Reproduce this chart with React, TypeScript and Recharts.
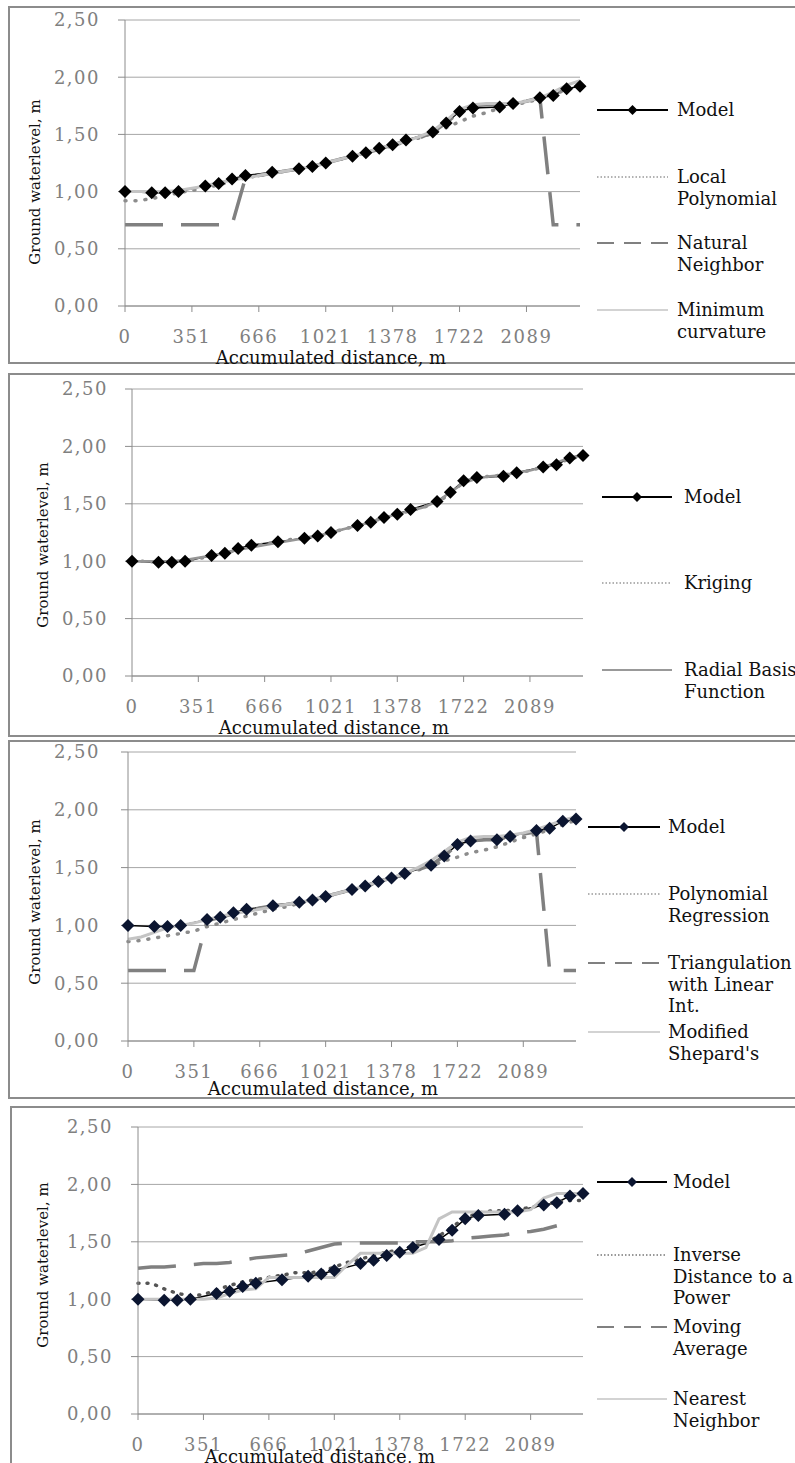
import { LineChart, Line, XAxis, YAxis, CartesianGrid } from "recharts";

// accumulated distance along the profile, m (category axis)
const distances = [
  0, 68, 142, 209, 283, 351, 410, 478, 541, 600, 666, 735, 810, 877, 951, 1021, 1090, 1166,
  1233, 1309, 1378, 1445, 1519, 1582, 1655, 1722, 1797, 1866, 1944, 2013, 2089, 2158, 2234,
  2300, 2371,
];

const yTicks = [0, 0.5, 1, 1.5, 2, 2.5];

// ground water level, m
const modelLevel = [
  1.0, null, 0.99, 0.99, 1.0, null, 1.05, 1.07, 1.11, 1.14, null, 1.17, null, 1.2, 1.22, 1.25,
  null, 1.31, 1.34, 1.38, 1.41, 1.45, null, 1.52, 1.6, 1.7, 1.73, null, 1.74, 1.77, null, 1.82,
  1.84, 1.9, 1.92,
];

const localPolynomial = [
  0.92, 0.92, 0.94, 0.96, 0.99, 1.01, 1.03, 1.06, 1.09, 1.12, 1.14, 1.16, 1.18, 1.2, 1.22, 1.25,
  1.28, 1.31, 1.34, 1.37, 1.4, 1.44, 1.47, 1.51, 1.56, 1.61, 1.66, 1.69, 1.73, 1.76, 1.78, 1.81,
  1.85, 1.89, 1.93,
];
const naturalNeighbor = [
  0.71, 0.71, 0.71, 0.71, 0.71, 0.71, 0.71, 0.71, 0.71, 1.12, 1.14, 1.16, 1.18, 1.2, 1.22, 1.25,
  1.28, 1.31, 1.34, 1.37, 1.41, 1.44, 1.47, 1.52, 1.6, 1.7, 1.75, 1.76, 1.76, 1.77, 1.79, 1.82,
  0.71, 0.71, 0.71,
];
const minimumCurvature = [
  1.0, 1.0, 1.0, 1.0, 1.01, 1.03, 1.05, 1.08, 1.1, 1.12, 1.14, 1.16, 1.18, 1.2, 1.22, 1.25, 1.28,
  1.31, 1.34, 1.38, 1.41, 1.44, 1.48, 1.53, 1.62, 1.72, 1.76, 1.77, 1.77, 1.77, 1.79, 1.82, 1.87,
  1.93, 1.97,
];

const kriging = [
  1.0, 1.0, 0.99, 0.99, 1.0, 1.02, 1.05, 1.07, 1.1, 1.13, 1.15, 1.17, 1.19, 1.2, 1.22, 1.25, 1.28,
  1.31, 1.34, 1.38, 1.41, 1.44, 1.47, 1.51, 1.59, 1.69, 1.73, 1.74, 1.75, 1.77, 1.79, 1.82, 1.85,
  1.89, 1.92,
];
const radialBasis = [
  1.0, 1.0, 1.0, 1.0, 1.01, 1.03, 1.05, 1.07, 1.1, 1.12, 1.14, 1.16, 1.18, 1.2, 1.22, 1.25, 1.28,
  1.31, 1.34, 1.38, 1.41, 1.44, 1.47, 1.52, 1.6, 1.68, 1.72, 1.74, 1.75, 1.77, 1.79, 1.82, 1.86,
  1.9, 1.93,
];

const polynomialRegression = [
  0.86, 0.87, 0.89, 0.91, 0.93, 0.95, 0.99, 1.02, 1.05, 1.08, 1.11, 1.14, 1.16, 1.19, 1.22, 1.25,
  1.28, 1.31, 1.34, 1.37, 1.41, 1.44, 1.48, 1.51, 1.56, 1.59, 1.63, 1.65, 1.68, 1.72, 1.76, 1.79,
  1.83, 1.87, 1.91,
];
const triangulation = [
  0.61, 0.61, 0.61, 0.61, 0.61, 0.61, 1.04, 1.07, 1.1, 1.13, 1.15, 1.17, 1.18, 1.2, 1.22, 1.25,
  1.28, 1.31, 1.34, 1.38, 1.41, 1.44, 1.48, 1.52, 1.6, 1.7, 1.73, 1.74, 1.74, 1.77, 1.79, 1.81,
  0.61, 0.61, 0.61,
];
const modifiedShepard = [
  0.88, 0.9, 0.94, 0.98, 1.0, 1.02, 1.05, 1.08, 1.1, 1.12, 1.14, 1.16, 1.18, 1.2, 1.22, 1.25,
  1.28, 1.31, 1.34, 1.38, 1.41, 1.45, 1.5, 1.56, 1.64, 1.72, 1.76, 1.77, 1.77, 1.78, 1.8, 1.83,
  1.87, 1.91, 1.94,
];

const inverseDistance = [
  1.14, 1.14, 1.09, 1.05, 1.03, 1.04, 1.08, 1.12, 1.15, 1.17, 1.19, 1.21, 1.23, 1.23, 1.24, 1.28,
  1.32, 1.35, 1.38, 1.41, 1.43, 1.46, 1.49, 1.55, 1.63, 1.71, 1.75, 1.77, 1.77, 1.78, 1.8, 1.82,
  1.85, 1.86, 1.86,
];
const movingAverage = [
  1.27, 1.28, 1.28, 1.29, 1.3, 1.31, 1.31, 1.32, 1.34, 1.36, 1.37, 1.38, 1.39, 1.42, 1.45, 1.48,
  1.49, 1.49, 1.49, 1.49, 1.49, 1.5, 1.5, 1.5, 1.51, 1.53, 1.54, 1.55, 1.56, 1.58, 1.59, 1.61,
  1.64, null, null,
];
const nearestNeighbor = [
  1.0, 1.0, 1.0, 1.0, 1.0, 1.0, 1.01, 1.05, 1.08, 1.09, 1.19, 1.19, 1.19, 1.19, 1.19, 1.19, 1.3,
  1.4, 1.4, 1.4, 1.4, 1.4, 1.45, 1.7, 1.76, 1.76, 1.76, 1.76, 1.76, 1.76, 1.78, 1.88, 1.92, 1.92,
  1.92,
];

const rows = distances.map((d, i) => ({
  d,
  model: modelLevel[i],
  lp: localPolynomial[i],
  nn: naturalNeighbor[i],
  mc: minimumCurvature[i],
  kr: kriging[i],
  rb: radialBasis[i],
  pr: polynomialRegression[i],
  tr: triangulation[i],
  ms: modifiedShepard[i],
  idw: inverseDistance[i],
  ma: movingAverage[i],
  ne: nearestNeighbor[i],
}));

const SERIF = "'DejaVu Serif', serif";

const styles: Record<string, any> = {
  model: { stroke: "#000", strokeWidth: 1.5 },
  dotted: { stroke: "#8c8c8c", strokeWidth: 3.5, strokeDasharray: "1 9", strokeLinecap: "round" },
  darkDotted: { stroke: "#555", strokeWidth: 3.5, strokeDasharray: "1 8", strokeLinecap: "round" },
  dashed: { stroke: "#808080", strokeWidth: 3.5, strokeDasharray: "38 18" },
  light: { stroke: "#c4c4c4", strokeWidth: 3 },
  mid: { stroke: "#969696", strokeWidth: 2.5 },
};

const legendStyles: Record<string, any> = {
  model: { stroke: "#000", strokeWidth: 2 },
  dotted: { stroke: "#999", strokeWidth: 1.5, strokeDasharray: "1.5 2" },
  darkDotted: { stroke: "#777", strokeWidth: 1.5, strokeDasharray: "1.5 2" },
  dashed: { stroke: "#808080", strokeWidth: 2, strokeDasharray: "17 10" },
  light: { stroke: "#c4c4c4", strokeWidth: 1.5 },
  mid: { stroke: "#999", strokeWidth: 2 },
};

const panels = [
  {
    frame: { left: 8, top: 6, height: 358 },
    plot: { left: 125, right: 580, top: 20, bottom: 306 },
    tickEnd: 100,
    xTitle: [331, 357],
    yTitle: [35, 182],
    markerColor: "#000",
    legend: { x1: 597, x2: 668, tx: 677 },
    series: [
      { key: "model", kind: "model", text: ["Model"], y: 110 },
      { key: "lp", kind: "dotted", text: ["Local", "Polynomial"], y: 177 },
      { key: "nn", kind: "dashed", text: ["Natural", "Neighbor"], y: 243 },
      { key: "mc", kind: "light", text: ["Minimum", "curvature"], y: 310 },
    ],
  },
  {
    frame: { left: 8, top: 373, height: 364 },
    plot: { left: 132, right: 583, top: 389, bottom: 676 },
    tickEnd: 108,
    xTitle: [334, 727],
    yTitle: [43, 545],
    markerColor: "#000",
    legend: { x1: 602, x2: 672, tx: 684 },
    series: [
      { key: "model", kind: "model", text: ["Model"], y: 497 },
      { key: "kr", kind: "dotted", text: ["Kriging"], y: 583 },
      { key: "rb", kind: "mid", text: ["Radial Basis", "Function"], y: 670 },
    ],
  },
  {
    frame: { left: 8, top: 740, height: 359 },
    plot: { left: 128, right: 576, top: 752, bottom: 1041 },
    tickEnd: 100,
    xTitle: [323, 1088],
    yTitle: [35, 902],
    markerColor: "#0b1530",
    legend: { x1: 588, x2: 660, tx: 668 },
    series: [
      { key: "model", kind: "model", text: ["Model"], y: 827 },
      { key: "pr", kind: "dotted", text: ["Polynomial", "Regression"], y: 894 },
      { key: "tr", kind: "dashed", text: ["Triangulation", "with Linear", "Int."], y: 963 },
      { key: "ms", kind: "light", text: ["Modified", "Shepard's"], y: 1032 },
    ],
  },
  {
    frame: { left: 10, top: 1106, height: 380 },
    plot: { left: 138, right: 583, top: 1127, bottom: 1414 },
    tickEnd: 113,
    xTitle: [320, 1456],
    yTitle: [43, 1265],
    markerColor: "#0b1530",
    legend: { x1: 597, x2: 667, tx: 673 },
    series: [
      { key: "model", kind: "model", text: ["Model"], y: 1182 },
      { key: "idw", kind: "darkDotted", text: ["Inverse", "Distance to a", "Power"], y: 1255 },
      { key: "ma", kind: "dashed", text: ["Moving", "Average"], y: 1327 },
      { key: "ne", kind: "light", text: ["Nearest", "Neighbor"], y: 1399 },
    ],
  },
];

const diamond = (color: string, r: number) => (props: any) => {
  const { cx, cy, index, value } = props;
  if (value == null || cy == null || Number.isNaN(cy)) return <g key={index} />;
  return (
    <polygon
      key={index}
      points={`${cx},${cy - r} ${cx + r},${cy} ${cx},${cy + r} ${cx - r},${cy}`}
      fill={color}
    />
  );
};

function Panel({ p }: { p: any }) {
  const chartTop = p.plot.top - 20;
  const plotH = p.plot.bottom - p.plot.top;
  const yAxisW = 60;
  const xAxisH = 40;
  return (
    <>
      <div
        style={{
          position: "absolute",
          left: p.frame.left,
          top: p.frame.top,
          width: 800 - p.frame.left,
          height: p.frame.height,
          border: "2px solid #8c8c8c",
          boxSizing: "border-box",
        }}
      />
      <div style={{ position: "absolute", left: 0, top: chartTop }}>
        <LineChart
          width={795}
          height={plotH + 20 + 60}
          data={rows}
          margin={{ top: 20, left: p.plot.left - yAxisW, right: 795 - p.plot.right, bottom: 60 - xAxisH }}
        >
          <CartesianGrid vertical={false} stroke="#a6a6a6" />
          <XAxis
            dataKey="d"
            interval={4}
            height={xAxisH}
            tickSize={6}
            tickMargin={18}
            axisLine={{ stroke: "#8c8c8c" }}
            tickLine={{ stroke: "#8c8c8c" }}
            tick={{ fill: "#808080", fontSize: 18, fontFamily: SERIF, letterSpacing: 1.5 }}
          />
          <YAxis
            domain={[0, 2.5]}
            ticks={yTicks}
            width={yAxisW}
            tickSize={7}
            tickMargin={p.plot.left - 7 - p.tickEnd}
            tickFormatter={(v: number) => v.toFixed(2).replace(".", ",")}
            axisLine={{ stroke: "#8c8c8c" }}
            tickLine={{ stroke: "#8c8c8c" }}
            tick={{ fill: "#808080", fontSize: 18, fontFamily: SERIF, letterSpacing: 1.5 }}
          />
          <YAxis
            yAxisId="r"
            orientation="right"
            domain={[0, 2.5]}
            width={0}
            tick={false}
            tickLine={false}
            axisLine={{ stroke: "#d4d4d4" }}
          />
          {p.series.map((s: any) =>
            s.kind === "model" ? (
              <Line
                key={s.key}
                dataKey={s.key}
                type="linear"
                connectNulls
                isAnimationActive={false}
                {...styles.model}
                dot={diamond(p.markerColor, 6.5)}
                activeDot={false}
              />
            ) : (
              <Line
                key={s.key}
                dataKey={s.key}
                type="linear"
                isAnimationActive={false}
                {...styles[s.kind]}
                dot={false}
                activeDot={false}
              />
            )
          )}
        </LineChart>
      </div>
      <div
        style={{
          position: "absolute",
          left: p.xTitle[0],
          top: p.xTitle[1],
          transform: "translate(-50%, -50%)",
          whiteSpace: "nowrap",
          fontFamily: SERIF,
          fontSize: 18,
          color: "#111",
        }}
      >
        Accumulated distance, m
      </div>
      <div
        style={{
          position: "absolute",
          left: p.yTitle[0],
          top: p.yTitle[1],
          transform: "translate(-50%, -50%) rotate(-90deg)",
          whiteSpace: "nowrap",
          fontFamily: SERIF,
          fontSize: 15,
          color: "#111",
        }}
      >
        Ground waterlevel, m
      </div>
      {p.series.map((s: any) => {
        const w = p.legend.x2 - p.legend.x1;
        return (
          <div key={s.key}>
            <svg
              width={w}
              height={14}
              style={{ position: "absolute", left: p.legend.x1, top: s.y - 7 }}
            >
              <line x1={0} y1={7} x2={w} y2={7} {...legendStyles[s.kind]} />
              {s.kind === "model" && (
                <polygon
                  points={`${w / 2},2 ${w / 2 + 5},7 ${w / 2},12 ${w / 2 - 5},7`}
                  fill={p.markerColor}
                />
              )}
            </svg>
            {s.text.map((t: string, j: number) => (
              <div
                key={j}
                style={{
                  position: "absolute",
                  left: p.legend.tx,
                  top: s.y - 11 + j * 21.5,
                  lineHeight: "22px",
                  fontSize: 18,
                  fontFamily: SERIF,
                  whiteSpace: "nowrap",
                  color: "#111",
                }}
              >
                {t}
              </div>
            ))}
          </div>
        );
      })}
    </>
  );
}

export default function App() {
  return (
    <div
      style={{
        position: "absolute",
        left: 0,
        top: 0,
        width: 795,
        height: 1463,
        overflow: "hidden",
        background: "#fff",
      }}
    >
      {panels.map((p, i) => (
        <Panel key={i} p={p} />
      ))}
    </div>
  );
}
